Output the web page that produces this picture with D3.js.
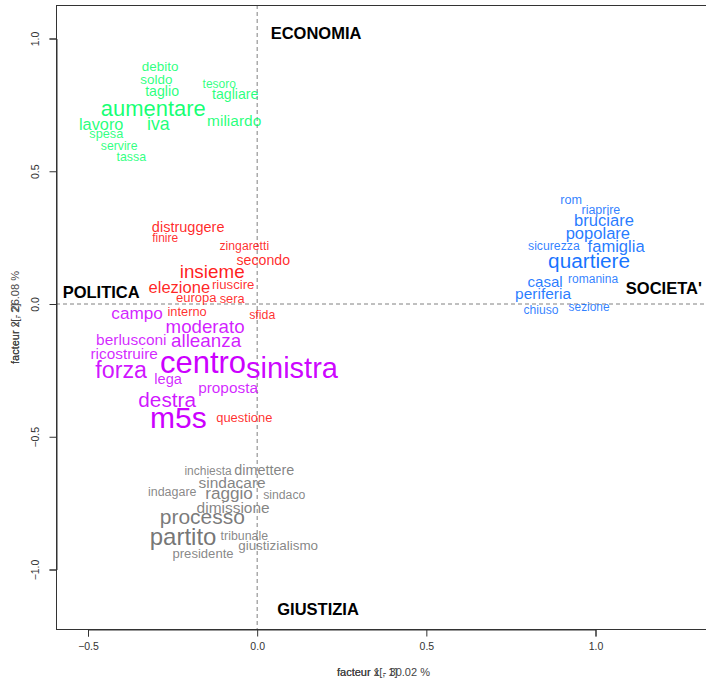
<!DOCTYPE html>
<html>
<head>
<meta charset="utf-8">
<script src="https://cdn.jsdelivr.net/npm/d3@7"></script>
<style>
  html, body { margin: 0; padding: 0; background: #fff; }
  svg { display: block; font-family: "Liberation Sans", Arial, sans-serif; }
</style>
</head>
<body>
<svg id="chart" width="706" height="680"></svg>
<script>
// ---- data: word coordinates on factor 1 (x) / factor 2 (y), and relative weight ----
const economia = [
  {w:"debito", x:-0.287, y:0.893, f:1.12},
  {w:"soldo", x:-0.298, y:0.844, f:1.12},
  {w:"taglio", x:-0.281, y:0.802, f:1.18},
  {w:"tesoro", x:-0.112, y:0.829, f:1.00},
  {w:"tagliare", x:-0.065, y:0.791, f:1.18},
  {w:"aumentare", x:-0.307, y:0.738, f:1.83},
  {w:"lavoro", x:-0.461, y:0.678, f:1.36},
  {w:"iva", x:-0.292, y:0.678, f:1.48},
  {w:"miliardo", x:-0.068, y:0.693, f:1.29},
  {w:"spesa", x:-0.446, y:0.644, f:1.06},
  {w:"servire", x:-0.408, y:0.595, f:1.02},
  {w:"tassa", x:-0.372, y:0.554, f:1.03}
];
const politicaRossa = [
  {w:"distruggere", x:-0.204, y:0.290, f:1.21},
  {w:"finire", x:-0.272, y:0.249, f:1.00},
  {w:"zingaretti", x:-0.038, y:0.218, f:1.02},
  {w:"secondo", x:0.018, y:0.166, f:1.18},
  {w:"insieme", x:-0.133, y:0.121, f:1.57},
  {w:"elezione", x:-0.230, y:0.064, f:1.38},
  {w:"riuscire", x:-0.071, y:0.072, f:1.10},
  {w:"europa", x:-0.180, y:0.023, f:1.09},
  {w:"sera", x:-0.074, y:0.019, f:1.07},
  {w:"interno", x:-0.207, y:-0.030, f:1.07},
  {w:"sfida", x:0.015, y:-0.041, f:1.03},
  {w:"questione", x:-0.038, y:-0.426, f:1.08}
];
const politicaViola = [
  {w:"campo", x:-0.355, y:-0.034, f:1.43},
  {w:"moderato", x:-0.154, y:-0.083, f:1.56},
  {w:"berlusconi", x:-0.372, y:-0.132, f:1.29},
  {w:"alleanza", x:-0.151, y:-0.139, f:1.57},
  {w:"ricostruire", x:-0.393, y:-0.185, f:1.28},
  {w:"centro", x:-0.160, y:-0.222, f:2.58},
  {w:"sinistra", x:0.103, y:-0.241, f:2.42},
  {w:"forza", x:-0.402, y:-0.249, f:1.94},
  {w:"lega", x:-0.263, y:-0.282, f:1.22},
  {w:"proposta", x:-0.086, y:-0.313, f:1.28},
  {w:"destra", x:-0.266, y:-0.358, f:1.73},
  {w:"m5s", x:-0.233, y:-0.429, f:2.50}
];
const giustizia = [
  {w:"inchiesta", x:-0.145, y:-0.629, f:1.00},
  {w:"dimettere", x:0.021, y:-0.625, f:1.20},
  {w:"sindacare", x:-0.074, y:-0.674, f:1.29},
  {w:"indagare", x:-0.251, y:-0.708, f:1.04},
  {w:"raggio", x:-0.083, y:-0.712, f:1.43},
  {w:"sindaco", x:0.080, y:-0.719, f:1.02},
  {w:"dimissione", x:-0.071, y:-0.765, f:1.29},
  {w:"processo", x:-0.162, y:-0.802, f:1.75},
  {w:"partito", x:-0.219, y:-0.874, f:2.00},
  {w:"tribunale", x:-0.038, y:-0.874, f:1.03},
  {w:"giustizialismo", x:0.062, y:-0.908, f:1.12},
  {w:"presidente", x:-0.160, y:-0.938, f:1.09}
];
const societa = [
  {w:"rom", x:0.928, y:0.392, f:1.05},
  {w:"riaprire", x:1.016, y:0.354, f:1.04},
  {w:"bruciare", x:1.025, y:0.313, f:1.38},
  {w:"popolare", x:1.007, y:0.267, f:1.38},
  {w:"sicurezza", x:0.877, y:0.218, f:1.02},
  {w:"famiglia", x:1.061, y:0.215, f:1.38},
  {w:"quartiere", x:0.981, y:0.162, f:1.73},
  {w:"casal", x:0.851, y:0.083, f:1.26},
  {w:"romanina", x:0.993, y:0.094, f:1.00},
  {w:"periferia", x:0.845, y:0.041, f:1.29},
  {w:"chiuso", x:0.839, y:-0.023, f:1.01},
  {w:"sezione", x:0.981, y:-0.011, f:0.99}
];
const dimensions = [
  {w:"ECONOMIA", x:0.174, y:1.021},
  {w:"POLITICA", x:-0.461, y:0.045},
  {w:"SOCIETA'", x:1.202, y:0.060},
  {w:"GIUSTIZIA", x:0.180, y:-1.149}
];
const xTicks = [-0.5, 0.0, 0.5, 1.0];
const yTicks = [-1.0, -0.5, 0.0, 0.5, 1.0];
const xTitle = ["facteur 1 - 30.02 %", "facteur x[, 1]"];
const yTitle = ["facteur 2 - 26.08 %", "facteur x[, 2]"];

// ---- layout ----
const svg = d3.select("#chart");
const frame = {left: 56, top: 5, right: 712, bottom: 629};
const x = d3.scaleLinear().domain([-0.5, 1.0]).range([88, 595.5]);
const y = d3.scaleLinear().domain([-1.0, 1.0]).range([569.5, 38.5]);
const size = d3.scaleLinear().domain([1, 2.5]).range([12, 30]);
const alpha = d3.scaleLinear().domain([1, 2.5]).range([0.82, 1]).clamp(true);

// reference lines
svg.append("line")
  .attr("x1", x(0)).attr("x2", x(0)).attr("y1", frame.top).attr("y2", frame.bottom)
  .attr("stroke", "#808080").attr("stroke-dasharray", "4,3").attr("stroke-width", 1);
svg.append("line")
  .attr("x1", frame.left).attr("x2", frame.right).attr("y1", y(0)).attr("y2", y(0))
  .attr("stroke", "#808080").attr("stroke-dasharray", "4,3").attr("stroke-width", 1);

// frame
svg.append("rect")
  .attr("x", frame.left + 0.5).attr("y", frame.top + 0.5)
  .attr("width", frame.right - frame.left).attr("height", frame.bottom - frame.top)
  .attr("fill", "none").attr("stroke", "#333").attr("stroke-width", 1);

// axes (R style)
const xAxis = d3.axisBottom(x).tickValues(xTicks).tickFormat(d3.format(".1f")).tickSize(7).tickPadding(6);
const gx = svg.append("g").attr("transform", `translate(0,${frame.bottom + 0.5})`).call(xAxis);
gx.select(".domain").attr("stroke", "#333");
gx.selectAll(".tick line").attr("stroke", "#333");
gx.selectAll("text").attr("font-size", 10.5).attr("fill", "#333")
  .attr("font-family", "Liberation Sans, Arial, sans-serif");

const yAxis = d3.axisLeft(y).tickValues(yTicks).tickFormat(d3.format(".1f")).tickSize(7).tickPadding(6);
const gy = svg.append("g").attr("transform", `translate(${frame.left + 0.5},0)`).call(yAxis);
gy.select(".domain").attr("stroke", "#333");
gy.selectAll(".tick line").attr("stroke", "#333");
gy.selectAll("text").attr("font-size", 10.5).attr("fill", "#333")
  .attr("font-family", "Liberation Sans, Arial, sans-serif")
  .attr("text-anchor", "middle").attr("x", 0).attr("dy", 0)
  .attr("transform", "translate(-18,0) rotate(-90)");

// axis titles (overlapping, as in reference)
const xMid = (frame.left + frame.right) / 2;
svg.selectAll("text.xtitle").data(xTitle).join("text")
  .attr("class", "xtitle")
  .attr("x", xMid - 47).attr("y", 676)
  .attr("font-size", 11).attr("fill", "#444")
  .text(d => d);
const yMid = (frame.top + frame.bottom) / 2;
svg.selectAll("text.ytitle").data(yTitle).join("text")
  .attr("class", "ytitle")
  .attr("transform", `translate(19,${yMid + 47}) rotate(-90)`)
  .attr("font-size", 11).attr("fill", "#444")
  .text(d => d);

// word clouds
const groups = [
  {data: economia, color: "#00FF66"},
  {data: politicaRossa, color: "#FF0000"},
  {data: politicaViola, color: "#CC00FF"},
  {data: giustizia, color: "#6E6E6E"},
  {data: societa, color: "#0066FF"}
];
groups.forEach((g, i) => {
  svg.append("g").selectAll("text").data(g.data).join("text")
    .attr("x", d => x(d.x)).attr("y", d => y(d.y))
    .attr("text-anchor", "middle").attr("dominant-baseline", "central")
    .attr("font-size", d => size(d.f))
    .attr("fill", g.color)
    .attr("fill-opacity", d => alpha(d.f))
    .text(d => d.w);
});

// dimension labels
svg.append("g").selectAll("text").data(dimensions).join("text")
  .attr("x", d => x(d.x)).attr("y", d => y(d.y))
  .attr("text-anchor", "middle").attr("dominant-baseline", "central")
  .attr("font-size", 16.5).attr("font-weight", "bold").attr("fill", "#000")
  .text(d => d.w);
</script>
</body>
</html>
